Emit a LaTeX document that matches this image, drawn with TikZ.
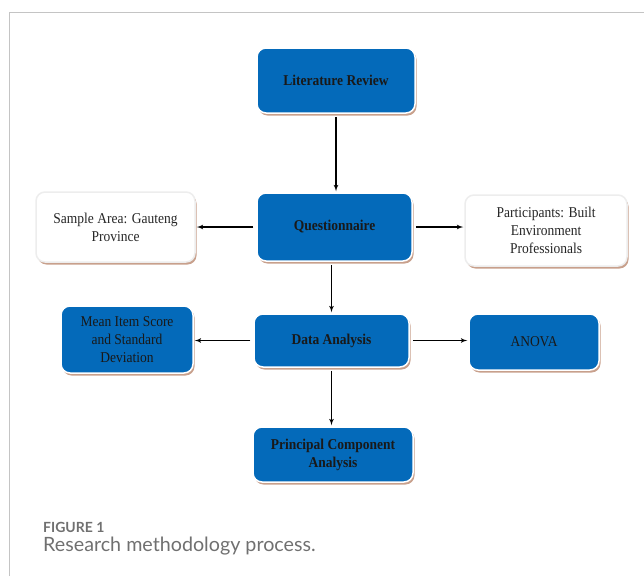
\documentclass[tikz,border=0pt]{standalone}
\usepackage{fontspec}
\setmainfont{Liberation Serif}[FakeStretch=0.9]
\newfontfamily\capfont{Lato}
\usepackage{tikz}
\usetikzlibrary{arrows,shapes,shadows}
\definecolor{boxblue}{RGB}{4,106,186}
\definecolor{shadowtan}{RGB}{200,160,140}
\definecolor{framegrey}{RGB}{196,196,196}
\definecolor{capgrey}{RGB}{112,112,112}
\begin{document}
\begin{tikzpicture}[x=1pt,y=-1pt]
	
	\tikzset{vertex/.style = {shape=rectangle,rounded corners=9pt,draw=white,line width=1.5pt,
			drop shadow={shadow xshift=1.5pt,shadow yshift=-2.5pt,fill=shadowtan,opacity=1},
			align=center,inner sep=2pt,font=\fontsize{15}{18}\selectfont}}
	\tikzset{blue/.style = {vertex,fill=boxblue,text=black!90}}
	\tikzset{plain/.style = {vertex,fill=white,draw=black!7,text=black!85}}
	\tikzset{edge/.style = {->,> = latex',line width=1.2pt,shorten <=3pt,shorten >=1pt}}
	
	\useasboundingbox (0,0) rectangle (644,576);
	\draw[framegrey,line width=1pt] (9,576) -- (9,12) -- (644,12);
	
	\node[blue,minimum width=158pt,minimum height=65pt] (lr) at (336,80.5) {\textbf{Literature Review}};
	\node[blue,minimum width=155pt,minimum height=68pt] (qn) at (334.5,227) {\textbf{Questionnaire}};
	\node[plain,minimum width=159pt,minimum height=70pt] (sa) at (115.5,227) {Sample Area: Gauteng\\Province};
	\node[plain,minimum width=162pt,minimum height=71pt] (pt) at (546,230.5) {Participants: Built\\Environment\\Professionals};
	\node[blue,minimum width=155pt,minimum height=53pt] (da) at (331.5,340.5) {\textbf{Data Analysis}};
	\node[blue,minimum width=132pt,minimum height=67pt] (ms) at (127,339.5) {Mean Item Score\\and Standard\\Deviation};
	\node[blue,minimum width=130pt,minimum height=56pt] (an) at (534,342) {ANOVA};
	\node[blue,minimum width=160pt,minimum height=55pt] (pc) at (333,454.5) {\textbf{Principal Component}\\\textbf{Analysis}};
	
	\draw[edge] (lr) to (lr |- qn.north);
	\draw[edge] (qn.west) to (qn.west -| sa.east);
	\draw[edge] (qn.east) to (qn.east -| pt.west);
	\draw[edge] (qn.south -| da) to (da.north);
	\draw[edge] (da.west) to (da.west -| ms.east);
	\draw[edge] (da.east) to (da.east -| an.west);
	\draw[edge] (da) to (da |- pc.north);
	
	\node[anchor=base west,inner sep=0pt,text=capgrey,font=\capfont\bfseries\fontsize{14}{16}\selectfont] (fig) at (43,532) {FIGURE 1};
	\node[anchor=base west,inner sep=0pt,text=capgrey,font=\capfont\fontsize{19.7}{23}\selectfont] (cap) at (43,551) {Research methodology process.};
	\end{tikzpicture}
\end{document}
